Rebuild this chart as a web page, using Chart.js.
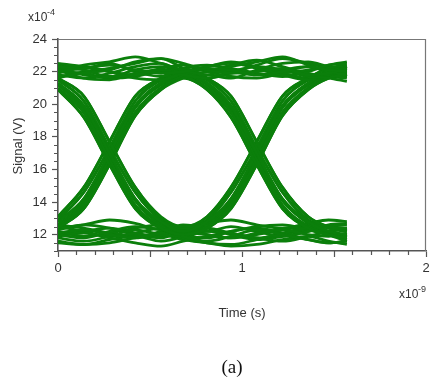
<!DOCTYPE html>
<html><head><meta charset="utf-8">
<script src="https://cdn.jsdelivr.net/npm/chart.js@4.4.0/dist/chart.umd.min.js"></script>
<style>html,body{margin:0;padding:0;background:#fff;}#wrap{width:430px;height:378px;}</style>
</head><body><div id="wrap"><canvas id="c" width="430" height="378"></canvas></div>
<script>
// time samples (units of 1e-9 s)
const sampleTimes = [0, 0.14, 0.28, 0.42, 0.56, 0.68, 0.81, 0.94, 1.08, 1.22, 1.36, 1.47, 1.57];
const xTicks = [0, 1, 2];
const yTicks = [12, 14, 16, 18, 20, 22, 24];
// signal traces (units of 1e-4 V), grouped by bit pattern
const tracesHHH = [
  [22.0, 22.2, 22.4, 22.1, 21.9, 22.0, 22.2, 22.1, 21.8, 22.0, 22.3, 22.1, 22.0],
  [21.7, 21.9, 22.1, 22.6, 22.8, 22.5, 22.1, 21.9, 22.0, 22.2, 21.8, 21.9, 22.2],
  [22.3, 22.1, 21.7, 21.8, 22.2, 22.4, 22.0, 21.7, 21.6, 21.9, 22.1, 22.4, 22.5],
  [21.9, 22.4, 22.6, 22.9, 22.5, 22.1, 21.8, 22.3, 22.6, 22.9, 22.4, 22.0, 21.8],
  [22.1, 21.6, 21.5, 21.9, 22.1, 21.8, 21.6, 22.0, 22.3, 22.1, 21.7, 21.6, 21.4],
  [22.5, 22.3, 22.0, 21.6, 21.5, 21.9, 22.3, 22.5, 22.2, 21.8, 21.5, 21.8, 22.3]
];
const tracesHHL = [
  [22.1, 22.3, 22.0, 21.8, 22.1, 22.0, 21.3, 19.9, 17.0, 14.2, 12.8, 12.2, 12.0],
  [21.8, 21.6, 21.9, 22.3, 22.5, 21.8, 20.9, 19.2, 16.3, 13.6, 12.4, 12.0, 11.8],
  [22.4, 22.2, 22.5, 22.0, 21.7, 22.2, 21.6, 20.5, 17.7, 14.9, 13.1, 12.5, 12.4],
  [22.0, 21.9, 21.6, 21.7, 22.0, 21.7, 21.0, 19.5, 16.6, 13.8, 12.5, 12.0, 11.6],
  [21.6, 22.0, 22.2, 22.5, 22.8, 22.2, 21.5, 20.2, 17.3, 14.6, 12.9, 12.4, 12.2],
  [22.2, 21.8, 21.7, 22.1, 22.3, 21.9, 21.2, 19.7, 16.9, 14.1, 12.7, 12.1, 11.9]
];
const tracesHLH = [
  [21.3, 19.9, 17.0, 14.2, 12.8, 12.2, 12.8, 14.2, 17.0, 19.9, 21.3, 21.9, 22.1],
  [20.9, 19.2, 16.3, 13.6, 12.4, 12.0, 12.4, 13.6, 16.3, 19.3, 20.9, 21.6, 21.8],
  [21.6, 20.5, 17.7, 14.9, 13.1, 12.5, 13.1, 14.9, 17.7, 20.5, 21.6, 22.2, 22.4],
  [21.0, 19.5, 16.6, 13.8, 12.5, 12.0, 12.5, 13.8, 16.6, 19.5, 21.0, 21.7, 21.7],
  [21.5, 20.2, 17.3, 14.6, 12.9, 12.4, 12.9, 14.6, 17.3, 20.2, 21.5, 22.0, 22.3],
  [21.2, 19.7, 16.9, 14.1, 12.6, 12.1, 12.7, 14.0, 16.9, 19.8, 21.2, 21.8, 22.0]
];
const tracesHLL = [
  [21.3, 19.9, 17.0, 14.2, 12.7, 12.2, 12.0, 11.8, 12.1, 12.3, 12.0, 11.9, 12.1],
  [20.9, 19.2, 16.3, 13.6, 12.4, 11.9, 11.6, 11.9, 12.3, 12.0, 11.7, 11.5, 11.6],
  [21.6, 20.5, 17.7, 14.9, 13.0, 12.4, 12.2, 12.5, 12.2, 11.9, 12.2, 12.5, 12.6],
  [21.0, 19.5, 16.6, 13.8, 12.4, 11.8, 11.5, 11.4, 11.7, 12.1, 12.4, 12.2, 11.9],
  [21.5, 20.2, 17.3, 14.6, 12.9, 12.3, 12.4, 12.1, 11.8, 11.6, 11.9, 12.2, 12.4],
  [21.2, 19.7, 16.9, 14.1, 12.6, 12.0, 11.8, 12.2, 12.5, 12.6, 12.3, 12.0, 11.8]
];
const tracesLHH = [
  [12.8, 14.2, 17.0, 19.9, 21.3, 21.9, 22.1, 22.0, 21.8, 22.1, 22.3, 22.0, 21.9],
  [12.4, 13.6, 16.3, 19.3, 20.9, 21.6, 22.0, 22.4, 22.7, 22.3, 21.9, 21.7, 21.6],
  [13.1, 14.9, 17.7, 20.5, 21.6, 22.2, 22.4, 22.2, 21.9, 21.7, 22.0, 22.4, 22.6],
  [12.5, 13.8, 16.6, 19.5, 21.0, 21.7, 21.8, 21.6, 22.1, 22.5, 22.6, 22.3, 22.1],
  [12.9, 14.6, 17.3, 20.2, 21.5, 22.0, 22.3, 22.6, 22.3, 21.9, 21.6, 21.8, 22.0],
  [12.6, 14.0, 16.9, 19.8, 21.2, 21.8, 21.6, 21.9, 22.4, 22.8, 22.5, 22.2, 21.7]
];
const tracesLHL = [
  [12.8, 14.2, 17.0, 19.9, 21.3, 21.9, 21.3, 19.9, 17.0, 14.2, 12.8, 12.2, 12.0],
  [12.4, 13.6, 16.3, 19.3, 20.9, 21.6, 20.9, 19.2, 16.3, 13.6, 12.4, 12.0, 11.7],
  [13.1, 14.9, 17.7, 20.5, 21.6, 22.2, 21.6, 20.5, 17.7, 14.9, 13.1, 12.5, 12.3],
  [12.5, 13.8, 16.6, 19.5, 21.0, 21.7, 21.0, 19.5, 16.6, 13.8, 12.5, 12.0, 11.8],
  [12.9, 14.6, 17.3, 20.2, 21.5, 22.0, 21.5, 20.2, 17.3, 14.6, 12.9, 12.4, 12.2],
  [12.6, 14.0, 16.9, 19.8, 21.2, 21.8, 21.2, 19.7, 16.9, 14.1, 12.7, 12.1, 12.0]
];
const tracesLLH = [
  [12.1, 12.3, 12.0, 11.8, 12.1, 12.2, 12.8, 14.2, 17.0, 19.9, 21.3, 21.9, 22.0],
  [11.8, 11.6, 11.9, 12.3, 12.0, 11.9, 12.4, 13.6, 16.3, 19.3, 20.9, 21.6, 21.9],
  [12.5, 12.2, 11.9, 12.1, 12.4, 12.4, 13.1, 14.9, 17.7, 20.5, 21.6, 22.2, 22.3],
  [11.5, 11.4, 11.7, 11.9, 11.6, 11.9, 12.5, 13.8, 16.6, 19.5, 21.0, 21.7, 21.8],
  [12.3, 12.6, 12.4, 12.0, 11.8, 12.3, 12.9, 14.6, 17.3, 20.2, 21.5, 22.0, 22.2],
  [12.0, 11.8, 12.2, 12.5, 12.3, 12.0, 12.7, 14.0, 16.9, 19.8, 21.2, 21.8, 22.1]
];
const tracesLLL = [
  [12.0, 12.2, 12.4, 12.1, 11.9, 12.0, 12.2, 12.1, 11.8, 12.0, 12.3, 12.1, 12.0],
  [11.6, 11.4, 11.5, 11.8, 12.0, 11.7, 11.5, 11.3, 11.4, 11.7, 11.9, 11.6, 11.4],
  [12.4, 12.6, 12.9, 12.7, 12.3, 12.5, 12.7, 12.9, 12.6, 12.4, 12.7, 12.9, 12.8],
  [11.9, 12.1, 11.8, 11.5, 11.3, 11.6, 11.9, 12.2, 12.4, 12.1, 11.7, 11.5, 11.6],
  [12.2, 11.9, 12.1, 12.4, 12.6, 12.3, 12.0, 11.8, 12.0, 12.3, 12.5, 12.2, 12.4],
  [12.6, 12.4, 12.1, 11.9, 12.2, 12.6, 12.4, 12.0, 11.7, 11.9, 12.2, 12.6, 12.7]
];

const allTraces = [].concat(tracesHHH, tracesHHL, tracesHLH, tracesHLL,
                            tracesLHH, tracesLHL, tracesLLH, tracesLLL);
const datasets = allTraces.map(tr => ({
  data: tr.map((v, i) => ({x: sampleTimes[i], y: v})),
  borderColor: '#0b7f0b',
  borderWidth: 2.8,
  pointRadius: 0,
  fill: false,
  cubicInterpolationMode: 'monotone'
}));

const axisGray = '#555';
const labelColor = '#333';
const extras = {
  id: 'extras',
  afterDraw(chart) {
    const ctx = chart.ctx, a = chart.chartArea;
    const xs = chart.scales.x, ys = chart.scales.y;
    ctx.save();
    // frame top & right
    ctx.strokeStyle = '#777'; ctx.lineWidth = 1.2;
    ctx.beginPath();
    ctx.moveTo(a.left, a.top + 0.5); ctx.lineTo(a.right - 0.5, a.top + 0.5); ctx.lineTo(a.right - 0.5, a.bottom);
    ctx.stroke();
    // minor ticks
    ctx.strokeStyle = axisGray; ctx.lineWidth = 1.2;
    ctx.beginPath();
    for (let k = 22; k <= 48; k++) {
      const v = k / 2;
      if (v % 2 === 0) continue;
      const py = Math.round(ys.getPixelForValue(v)) + 0.5;
      ctx.moveTo(a.left - 4, py); ctx.lineTo(a.left, py);
    }
    for (let k = 0; k <= 20; k++) {
      if (k % 10 === 0) continue;
      const px = Math.round(xs.getPixelForValue(k / 10)) + 0.5;
      const len = (k % 5 === 0) ? 6 : 4;
      ctx.moveTo(px, a.bottom); ctx.lineTo(px, a.bottom + len);
    }
    ctx.stroke();
    // texts
    ctx.fillStyle = labelColor;
    ctx.textBaseline = 'alphabetic';
    ctx.textAlign = 'left';
    ctx.font = '12px "Liberation Sans", Arial, sans-serif';
    ctx.fillText('x10', 28, 21);
    ctx.font = '9px "Liberation Sans", Arial, sans-serif';
    ctx.fillText('-4', 47, 15);
    ctx.font = '12px "Liberation Sans", Arial, sans-serif';
    ctx.fillText('x10', 399, 298);
    ctx.font = '9px "Liberation Sans", Arial, sans-serif';
    ctx.fillText('-9', 418, 292);
    ctx.font = '13px "Liberation Sans", Arial, sans-serif';
    ctx.textAlign = 'center';
    ctx.fillText('Time (s)', 242, 317);
    ctx.save();
    ctx.translate(22, 146); ctx.rotate(-Math.PI / 2);
    ctx.fillText('Signal (V)', 0, 0);
    ctx.restore();
    ctx.font = '19px "Liberation Serif", "Times New Roman", serif';
    ctx.fillStyle = '#111';
    ctx.fillText('(a)', 232, 373);
    ctx.restore();
  }
};

new Chart(document.getElementById('c'), {
  type: 'line',
  data: { datasets },
  options: {
    responsive: false,
    animation: false,
    events: [],
    layout: { padding: { left: 0, right: 4, top: 39, bottom: 0 } },
    plugins: { legend: { display: false }, tooltip: { enabled: false } },
    scales: {
      x: {
        type: 'linear', min: 0, max: 2,
        afterBuildTicks: s => { s.ticks = xTicks.map(v => ({value: v})); },
        afterFit: s => { s.height = 127; s.paddingRight = 0; s.paddingLeft = 0; },
        ticks: { color: labelColor, font: { size: 13, family: '"Liberation Sans", Arial, sans-serif' }, padding: 4, maxRotation: 0 },
        grid: { drawOnChartArea: false, tickLength: 6, tickColor: axisGray, tickWidth: 1.2 },
        border: { color: axisGray, width: 1.6 }
      },
      y: {
        type: 'linear', min: 11, max: 24,
        afterBuildTicks: s => { s.ticks = yTicks.map(v => ({value: v})); },
        afterFit: s => { s.width = 58; s.paddingTop = 0; s.paddingBottom = 0; },
        ticks: { color: labelColor, font: { size: 13, family: '"Liberation Sans", Arial, sans-serif' }, padding: 5 },
        grid: { drawOnChartArea: false, tickLength: 6, tickColor: axisGray, tickWidth: 1.2 },
        border: { color: axisGray, width: 1.6 }
      }
    }
  },
  plugins: [extras]
});
</script>
</body></html>
